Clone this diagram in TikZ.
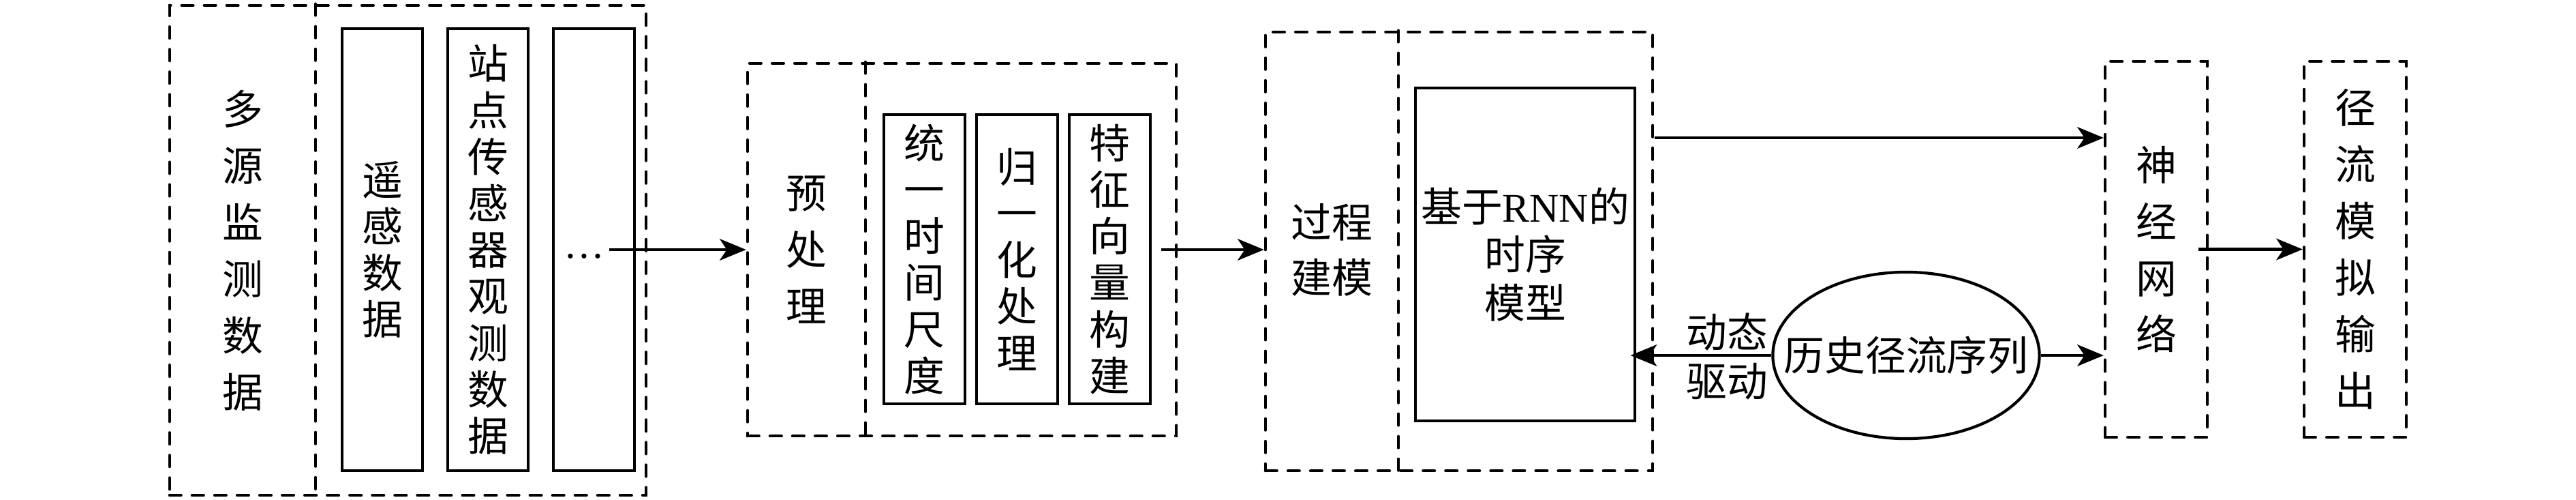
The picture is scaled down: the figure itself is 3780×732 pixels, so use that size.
\documentclass[tikz,border=0pt]{standalone}
\usepackage{fontspec}
\setmainfont{Liberation Serif}
\newfontfamily\cjk{Noto Sans CJK SC}
\usetikzlibrary{arrows.meta,shapes.geometric}
\begin{document}
\begin{tikzpicture}[x=0.01cm,y=-0.01cm,
  dline/.style={line width=1.2pt, dash pattern=on 4.8pt off 4.6pt, line cap=round},
  dbox/.style={draw, dline, inner sep=0pt},
  sbox/.style={draw, line width=1.3pt, inner sep=0pt},
  big/.style={font=\cjk\fontsize{17}{23.6}\selectfont, align=center, inner sep=0pt},
  small/.style={font=\cjk\fontsize{17}{19.4}\selectfont, align=center},
  arr/.style={line width=1.2pt, -{Stealth[length=11pt,width=9pt,inset=3pt]}}]
\useasboundingbox (0,0) rectangle (3780,732);

% panel 1
\node[dbox, minimum width=6.99cm, minimum height=7.18cm] (b1) at (598.5,367) {};
\draw[dline] (463,0 |- b1.north) -- (463,0 |- b1.south);
\node[big] (t1) at (356,367) {多\\源\\监\\测\\数\\据};
\node[sbox, small, minimum width=1.18cm, minimum height=6.48cm] (r1) at (561,366) {遥\\感\\数\\据};
\node[sbox, small, minimum width=1.18cm, minimum height=6.48cm] (r2) at (716,366) {站\\点\\传\\感\\器\\观\\测\\数\\据};
\node[sbox, minimum width=1.19cm, minimum height=6.48cm] (r3) at (871.5,366) {};
\node[anchor=base, font=\fontsize{17}{20}\selectfont, inner sep=0pt] (dots) at (857,378) {…};
\coordinate (p1) at (894,366);

% panel 2
\node[dbox, minimum width=6.29cm, minimum height=5.46cm] (b2) at (1411.5,366) {};
\draw[dline] (1270,0 |- b2.north) -- (1270,0 |- b2.south);
\node[big] (t2) at (1183.5,366) {预\\处\\理};
\node[sbox, small, minimum width=1.19cm, minimum height=4.24cm] (q1) at (1356.5,380) {统\\一\\时\\间\\尺\\度};
\node[sbox, small, minimum width=1.19cm, minimum height=4.24cm] (q2) at (1492.5,380) {归\\一\\化\\处\\理};
\node[sbox, small, minimum width=1.19cm, minimum height=4.24cm] (q3) at (1628.5,380) {特\\征\\向\\量\\构\\建};
\coordinate (p2) at (1704,366);

% panel 3
\node[dbox, minimum width=5.68cm, minimum height=6.43cm] (b3) at (2141,368.5) {};
\draw[dline] (2052,0 |- b3.north) -- (2052,0 |- b3.south);
\node[font=\cjk\fontsize{17}{23}\selectfont, align=center, inner sep=0pt] (t3) at (1954.5,366) {过程\\建模};
\node[sbox, minimum width=3.22cm, minimum height=4.88cm, font=\fontsize{17}{20}\selectfont, align=center] (rnn) at (2238,373)
  {{\cjk 基于}RNN{\cjk 的}\\{\cjk 时序}\\{\cjk 模型}};
\coordinate (p3) at (2428,202);

% history ellipse
\node[ellipse, draw, line width=1.2pt, inner sep=0pt, minimum width=3.91cm, minimum height=2.44cm] (hist) at (2797,521) {};
\node[font=\cjk\fontsize{17}{20}\selectfont, inner sep=0pt] (htext) at (hist.center) {历史径流序列};
\node[font=\cjk\fontsize{17}{20.5}\selectfont, align=center, inner sep=0pt] (lab) at (2534,523) {动态\\驱动};

% right boxes
\node[dbox, big, minimum width=1.50cm, minimum height=5.51cm] (nn) at (3164,365.5) {神\\经\\网\\络};
\node[dbox, big, minimum width=1.50cm, minimum height=5.51cm] (out) at (3456,365.5) {径\\流\\模\\拟\\输\\出};
\coordinate (p4) at (3226,365.5);

% connectors
\draw[arr] (p1) -- (p1 -| b2.west);
\draw[arr] (p2) -- (p2 -| b3.west);
\draw[arr] (p3) -- (p3 -| nn.west);
\draw[arr, shorten >=-2.5pt] (hist.west) -- (hist.west -| rnn.east);
\draw[arr] (hist.east) -- (hist.east -| nn.west);
\draw[arr] (p4) -- (out.west);
\end{tikzpicture}
\end{document}
